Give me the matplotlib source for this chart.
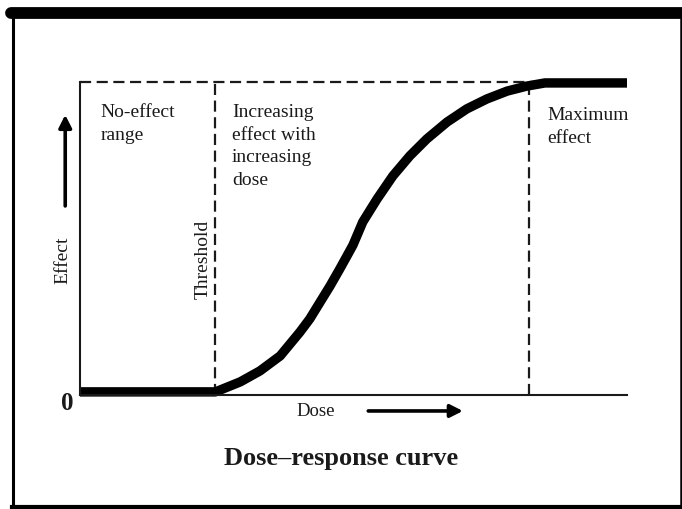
import matplotlib
matplotlib.use("Agg")
import matplotlib.pyplot as plt
from matplotlib.lines import Line2D

plt.rcParams['font.family'] = ['Liberation Serif', 'DejaVu Serif']

# curve (dose in arbitrary units, effect in %)
dose = [0.0, 2.47, 2.52, 2.93, 3.29, 3.66, 4.02, 4.20, 4.39, 4.57, 4.75, 4.88, 4.99,
        5.17, 5.43, 5.72, 6.03, 6.34, 6.71, 7.07, 7.44, 7.81, 8.17, 8.50, 10.0]
effect = [1.0, 1.0, 1.3, 4.2, 7.7, 12.5, 20.1, 24.3, 29.7, 34.8, 40.3, 44.4, 47.9,
          55.3, 62.6, 70.0, 76.4, 81.8, 87.2, 91.4, 94.6, 97.1, 98.7, 99.7, 99.7]

threshold = 2.47
max_dose = 8.2
max_effect = 100

region_labels = ['No-effect\nrange', 'Increasing\neffect with\nincreasing\ndose', 'Maximum\neffect']
region_x = [0.38, 2.78, 8.54]
region_y = [93.2, 93.2, 92.2]

ink = '#1a1a1a'

fig = plt.figure(figsize=(6.82, 5.10), dpi=100)
ax = fig.add_axes([80/682, 114/510, 547/682, 313/510])
ax.set_xlim(0, 10)
ax.set_ylim(0, 100)
ax.set_xticks([])
ax.set_yticks([])
ax.spines['top'].set_visible(False)
ax.spines['right'].set_visible(False)
for s in ['left', 'bottom']:
    ax.spines[s].set_linewidth(1.5)
    ax.spines[s].set_color(ink)

# dashed guide lines
dash = dict(color=ink, lw=1.6, dashes=(5, 2.5), clip_on=False)
ax.plot([0, 8.5], [max_effect, max_effect], **dash)
ax.plot([threshold, threshold], [0, max_effect], **dash)
ax.plot([max_dose, max_dose], [0, max_effect], **dash)

# the curve
ax.plot(dose, effect, color='black', lw=6.8, solid_capstyle='butt', solid_joinstyle='round', clip_on=False)

for lab, x, y in zip(region_labels, region_x, region_y):
    ax.text(x, y, lab, ha='left', va='top', fontsize=14, color=ink, linespacing=1.42)

ax.text(2.25, 43.5, 'Threshold', rotation=90, ha='center', va='center', fontsize=14, color=ink)
ax.text(-0.31, 43.5, 'Effect', rotation=90, ha='center', va='center', fontsize=14, color=ink)
ax.text(-0.24, -2.3, '0', ha='center', va='center', fontsize=18, fontweight='bold', color=ink)
ax.text(4.31, -4.8, 'Dose', ha='center', va='center', fontsize=13.5, color=ink)

arrow = dict(arrowstyle='-|>,head_length=0.75,head_width=0.38', color='black', lw=2.6, shrinkA=0, shrinkB=0)
ax.annotate('', xy=(-0.27, 89.5), xytext=(-0.27, 60.4), arrowprops=arrow, annotation_clip=False)
ax.annotate('', xy=(7.0, -5.1), xytext=(5.27, -5.1), arrowprops=arrow, annotation_clip=False)

fig.text(341/682, 1 - 459/510, 'Dose\u2013response curve', ha='center', va='center',
         fontsize=19, fontweight='bold', color=ink)

# frame around the figure
fig.add_artist(Line2D([11/682, 1.0], [1 - 14/510, 1 - 14/510], color='black', lw=8.5,
                      solid_capstyle='round', transform=fig.transFigure))
fig.add_artist(Line2D([12.5/682, 12.5/682], [0, 1 - 16/510], color='black', lw=2.2,
                      transform=fig.transFigure))
fig.add_artist(Line2D([680.5/682, 680.5/682], [0, 1 - 16/510], color='black', lw=1.8,
                      transform=fig.transFigure))
fig.add_artist(Line2D([12/682, 1.0], [2/510, 2/510], color='black', lw=3,
                      transform=fig.transFigure))

fig.savefig('out.png', dpi=100)
